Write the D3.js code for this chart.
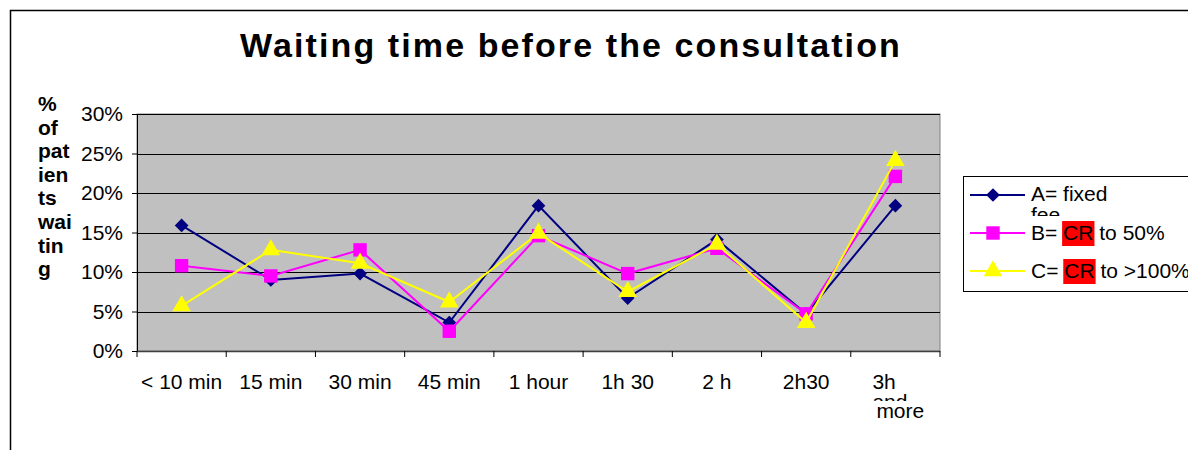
<!DOCTYPE html>
<html>
<head>
<meta charset="utf-8">
<script src="https://d3js.org/d3.v7.min.js"></script>
<style>
  body { margin: 0; background: #fff; }
  text { font-family: "Liberation Sans", Arial, sans-serif; fill: #000; }
</style>
</head>
<body>
<svg width="1188" height="450"></svg>
<script>
// chart values
var categories = ["< 10 min", "15 min", "30 min", "45 min", "1 hour", "1h 30", "2 h", "2h30", "3h and more"];
var seriesA = [15.9, 9.0, 9.8, 3.6, 18.4, 6.7, 14.1, 4.7, 18.4];
var seriesB = [10.8, 9.5, 12.8, 2.5, 14.6, 9.8, 13.0, 4.7, 22.1];
var seriesC = [5.7, 12.8, 11.1, 6.2, 14.9, 7.5, 13.5, 3.6, 24.1];
var yTicks = [0, 5, 10, 15, 20, 25, 30];
var yTitle = ["%", "of", "pat", "ien", "ts", "wai", "tin", "g"];

var series = [
  {name: "A", values: seriesA, color: "#000080", shape: "diamond"},
  {name: "B", values: seriesB, color: "#ff00ff", shape: "square"},
  {name: "C", values: seriesC, color: "#ffff00", shape: "triangle"}
];

var svg = d3.select("svg");
var FS = "21px";

// outer frame (runs off the right and bottom)
svg.append("rect").attr("x", 10.5).attr("y", 10.5).attr("width", 1300).attr("height", 600)
  .attr("fill", "none").attr("stroke", "#000").attr("stroke-width", 1.5);

svg.append("text").attr("x", 571).attr("y", 57).attr("text-anchor", "middle")
  .style("font-size", "34px").style("font-weight", "bold").style("letter-spacing", "2.1px")
  .text("Waiting time before the consultation");

var pLeft = 137, pRight = 940, pTop = 114, pBottom = 351;

var x = d3.scaleBand().domain(categories).range([pLeft, pRight]);
var y = d3.scaleLinear().domain([0, 30]).range([pBottom, pTop]);

svg.append("rect").attr("x", pLeft).attr("y", pTop).attr("width", pRight - pLeft).attr("height", pBottom - pTop)
  .attr("fill", "#c0c0c0").attr("stroke", "#808080").attr("stroke-width", 1);

// gridlines
svg.append("g").selectAll("line").data(yTicks.filter(function(d) { return d > 0; })).join("line")
  .attr("x1", pLeft).attr("x2", pRight)
  .attr("y1", function(d) { return Math.round(y(d)) + 0.5; })
  .attr("y2", function(d) { return Math.round(y(d)) + 0.5; })
  .attr("stroke", "#000").attr("stroke-width", 1);

// y axis
var yAxis = svg.append("g").attr("transform", "translate(" + pLeft + ",0)")
  .call(d3.axisLeft(y).tickValues(yTicks).tickSize(5).tickPadding(9).tickFormat(function(d) { return d + "%"; }));
yAxis.select(".domain").attr("stroke", "#000");
yAxis.selectAll("text").style("font-size", FS).style("font-family", "Liberation Sans, Arial, sans-serif");

// x axis
var xAxis = svg.append("g").attr("transform", "translate(0," + pBottom + ")");
xAxis.append("line").attr("x1", pLeft).attr("x2", pRight).attr("y1", 0.5).attr("y2", 0.5).attr("stroke", "#404040").attr("stroke-width", 1.5);
var bounds = categories.map(function(c) { return x(c); }).concat([pRight]);
xAxis.selectAll("line.tk").data(bounds).join("line").attr("class", "tk")
  .attr("x1", function(d) { return d; }).attr("x2", function(d) { return d; })
  .attr("y1", 0).attr("y2", 6).attr("stroke", "#000");

var defs = svg.append("defs");
defs.append("clipPath").attr("id", "clipAnd").append("rect")
  .attr("x", 850).attr("y", 390).attr("width", 120).attr("height", 11);
defs.append("clipPath").attr("id", "clipFee").append("rect")
  .attr("x", 1020).attr("y", 205).attr("width", 120).attr("height", 11);

categories.forEach(function(c) {
  var cx = x(c) + x.bandwidth() / 2;
  if (c === "3h and more") {
    svg.append("text").attr("x", cx - 23).attr("y", 389).style("font-size", FS).text("3h");
    svg.append("text").attr("x", cx - 23).attr("y", 409).style("font-size", FS)
      .attr("clip-path", "url(#clipAnd)").text("and");
    svg.append("text").attr("x", cx - 19).attr("y", 418).style("font-size", FS).text("more");
  } else {
    svg.append("text").attr("x", cx).attr("y", 389).attr("text-anchor", "middle").style("font-size", FS).text(c);
  }
});

// y title
svg.append("g").selectAll("text").data(yTitle).join("text")
  .attr("x", 38).attr("y", function(d, i) { return 111 + i * 23.6; })
  .style("font-size", FS).style("font-weight", "bold").text(function(d) { return d; });

function symbolFor(shape) {
  if (shape === "diamond") return d3.symbol().type(d3.symbolDiamond2).size(120)();
  if (shape === "square") return d3.symbol().type(d3.symbolSquare).size(180)();
  return d3.symbol().type(d3.symbolTriangle).size(150)();
}

var line = d3.line()
  .x(function(d, i) { return x(categories[i]) + x.bandwidth() / 2; })
  .y(function(d) { return y(d); });

series.forEach(function(s) {
  var g = svg.append("g");
  g.append("path").attr("d", line(s.values)).attr("fill", "none")
    .attr("stroke", s.color).attr("stroke-width", 2);
  g.selectAll("path.m").data(s.values).join("path").attr("class", "m")
    .attr("d", symbolFor(s.shape))
    .attr("transform", function(d, i) {
      return "translate(" + (x(categories[i]) + x.bandwidth() / 2) + "," + y(d) + ")";
    })
    .attr("fill", s.color);
});

// legend
var lg = svg.append("g");
lg.append("rect").attr("x", 963.5).attr("y", 176.5).attr("width", 300).attr("height", 115)
  .attr("fill", "#fff").attr("stroke", "#000").attr("stroke-width", 1);
var legendRows = [
  {s: series[0], y: 195},
  {s: series[1], y: 233},
  {s: series[2], y: 271}
];
legendRows.forEach(function(r) {
  lg.append("line").attr("x1", 970).attr("x2", 1025).attr("y1", r.y).attr("y2", r.y)
    .attr("stroke", r.s.color).attr("stroke-width", 2);
  lg.append("path").attr("d", symbolFor(r.s.shape)).attr("transform", "translate(993," + r.y + ")")
    .attr("fill", r.s.color);
});
lg.append("text").attr("x", 1031).attr("y", 201).style("font-size", FS).text("A= fixed");
lg.append("text").attr("x", 1031).attr("y", 222).style("font-size", FS)
  .attr("clip-path", "url(#clipFee)").text("fee");

function crRow(prefix, suffix, yy) {
  var t = lg.append("text").attr("x", 1031).attr("y", yy).style("font-size", FS);
  t.append("tspan").text(prefix);
  var cr = t.append("tspan").text("CR");
  t.append("tspan").text(suffix);
  var node = cr.node();
  var ext = node.getComputedTextLength();
  var x0 = node.getStartPositionOfChar(0).x;
  lg.insert("rect", "text").attr("x", x0 - 1).attr("y", yy - 19).attr("width", ext + 2).attr("height", 25)
    .attr("fill", "#ff0000");
}
crRow("B= ", " to 50%", 240);
crRow("C= ", " to >100%", 278);
</script>
</body>
</html>
